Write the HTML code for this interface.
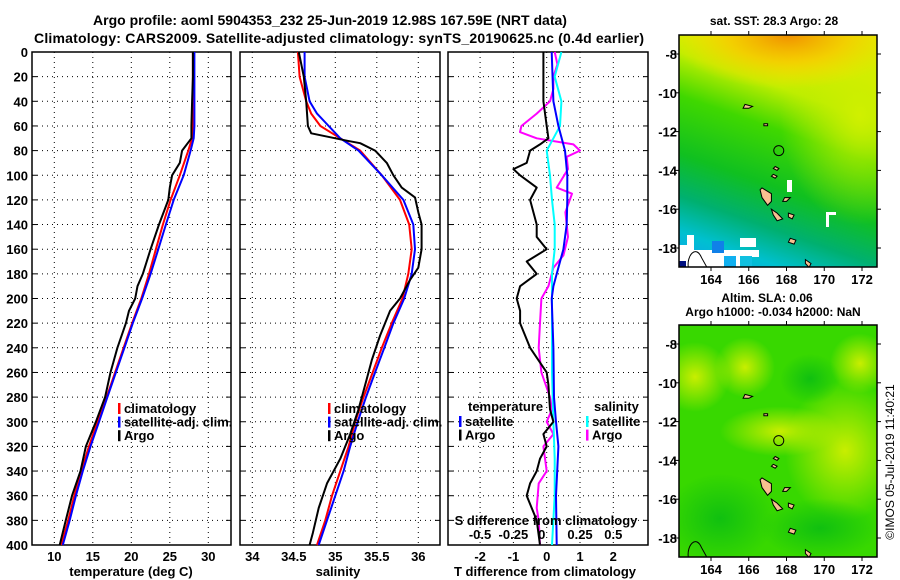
<!DOCTYPE html>
<html><head><meta charset="utf-8"><style>
body{margin:0;background:#fff;}
svg{display:block;font-family:"Liberation Sans",sans-serif;font-weight:bold;}
</style></head><body>
<svg id="s" width="900" height="580" viewBox="0 0 900 580">
<defs>
<linearGradient id="sstg" x1="0.3" y1="0" x2="0" y2="1">
<stop offset="0" stop-color="#e8ee00"/><stop offset="0.15" stop-color="#c0ee00"/>
<stop offset="0.32" stop-color="#40d800"/><stop offset="0.55" stop-color="#10c020"/>
<stop offset="0.72" stop-color="#00b070"/><stop offset="0.86" stop-color="#00c0d0"/><stop offset="1" stop-color="#10a0f0"/></linearGradient>
<radialGradient id="org" cx="0.55" cy="0" r="0.6"><stop offset="0" stop-color="#f09000"/><stop offset="0.5" stop-color="#f8c800" stop-opacity="0.8"/><stop offset="1" stop-color="#f8e000" stop-opacity="0"/></radialGradient>
<radialGradient id="yel1" cx="0.5" cy="0.5" r="0.5"><stop offset="0" stop-color="#d0f000"/><stop offset="1" stop-color="#b0ea00" stop-opacity="0"/></radialGradient>
<radialGradient id="yel2" cx="0.5" cy="0.5" r="0.5"><stop offset="0" stop-color="#c8ee00"/><stop offset="1" stop-color="#c8ee00" stop-opacity="0"/></radialGradient>
<radialGradient id="dk" cx="0.5" cy="0.5" r="0.5"><stop offset="0" stop-color="#10c010"/><stop offset="1" stop-color="#10c010" stop-opacity="0"/></radialGradient>
</defs>
<g id="g"></g>
</svg>
<script>
// ---------- data ----------
const depthT = [0,20,40,60,70,80,100,120,140,160,180,200,220,240,260,280,300,320,340,360,380,400];
const tempClim = [28.0,28.0,28.0,28.0,27.9,27.4,26.3,25.1,24.1,23.2,22.3,21.3,20.1,19.0,17.9,16.8,15.6,14.5,13.5,12.6,11.8,10.9];
const tempSat  = [28.2,28.2,28.2,28.2,28.1,27.7,26.8,25.5,24.5,23.5,22.5,21.4,20.2,19.1,18.0,16.9,15.8,14.7,13.7,12.8,12.0,11.1];
const depthTA = [0,20,40,60,70,80,90,100,110,120,140,160,180,190,200,210,220,240,260,280,300,320,340,360,380,400];
const tempArgo = [28.0,28.0,27.9,27.8,27.8,26.6,26.3,25.3,25.0,24.8,23.6,22.5,21.5,20.8,20.5,19.7,19.3,18.2,17.3,16.6,15.4,14.1,13.4,12.3,11.5,10.7];
const depthS = [0,20,40,50,60,70,80,100,120,140,160,180,200,220,240,260,280,300,320,340,360,380,400];
const salClim = [34.55,34.57,34.65,34.71,34.82,35.06,35.30,35.56,35.78,35.89,35.92,35.88,35.81,35.68,35.56,35.45,35.34,35.24,35.16,35.06,34.96,34.88,34.78];
const salSat  = [34.63,34.63,34.69,34.78,34.92,35.06,35.28,35.56,35.82,35.94,35.96,35.92,35.83,35.70,35.59,35.48,35.37,35.27,35.18,35.10,35.00,34.90,34.80];
const depthSA = [0,20,40,60,66,72,74,80,90,100,110,118,130,140,160,175,185,200,210,230,250,270,290,310,330,350,370,390,400];
const salArgo = [34.56,34.62,34.65,34.67,34.71,35.14,35.30,35.48,35.62,35.70,35.80,35.96,36.0,36.04,36.04,36.0,35.90,35.78,35.66,35.54,35.44,35.36,35.28,35.18,35.06,34.90,34.80,34.73,34.69];
const depthDTS = [0,40,60,80,100,120,140,160,180,190,200,240,280,300,320,360,400];
const dTsat = [0.15,0.2,0.35,0.55,0.62,0.62,0.6,0.5,0.3,0.2,0.15,0.2,0.22,0.28,0.35,0.28,0.3];
const depthDTA = [0,40,60,70,75,80,90,95,100,110,120,130,140,150,160,170,180,190,200,210,220,240,260,270,290,300,310,320,330,340,350,360,380,400];
const dTargo = [-0.1,-0.1,0.0,0.05,-0.2,-0.5,-0.6,-1.0,-0.8,-0.3,-0.5,-0.4,-0.3,-0.3,0.0,-0.6,-0.3,-0.8,-0.9,-0.8,-0.8,-0.5,0.0,0.05,0.1,0.2,-0.1,0.0,-0.2,-0.3,-0.5,-0.6,-0.3,-0.2];
const depthDSS = [0,20,40,60,70,80,100,120,140,160,180,200,220,260,300,330,360,400];
const dSsat = [0.11,0.06,0.11,0.10,0.05,0.0,0.025,0.04,0.06,0.06,0.04,0.04,0.04,0.04,0.05,0.06,0.06,0.04];
const depthDSA = [0,10,20,30,40,50,60,65,70,75,80,85,95,110,115,130,150,165,175,190,200,220,240,260,280,290,300,310,320,340,350,370,380,400];
const dSargo = [0.06,0.08,0.05,0.05,0.025,-0.075,-0.19,-0.2,-0.075,0.2,0.25,0.15,0.16,0.075,0.19,0.14,0.16,0.125,0.05,0.0125,-0.04,-0.05,-0.06,-0.04,0.025,0.04,0.0,0.05,-0.025,0.0,-0.06,-0.075,-0.06,-0.05];
const depthTicks = [0,20,40,60,80,100,120,140,160,180,200,220,240,260,280,300,320,340,360,380,400];
const tempTicks = [10,15,20,25,30];
const salTicks = [34,34.5,35,35.5,36];
const dtTicks = [-2,-1,0,1,2];
const dsTicks = [-0.5,-0.25,0,0.25,0.5];
const dsTickLabels = ["-0.5","-0.25","0","0.25","0.5"];
const lonTicks = [164,166,168,170,172];
const latTicks = [-8,-10,-12,-14,-16,-18];

// ---------- helpers ----------
const NS="http://www.w3.org/2000/svg";
const G=document.getElementById('g');
function el(tag,attrs,parent){const e=document.createElementNS(NS,tag);for(const k in attrs)e.setAttribute(k,attrs[k]);(parent||G).appendChild(e);return e;}
function txt(x,y,s,size,anchor,parent){const t=el('text',{x:x,y:y,'font-size':size,'text-anchor':anchor||'middle',fill:'#000'},parent);t.textContent=s;return t;}
const Y0=52,Y1=545;
function yD(d){return Y0+(d/400)*(Y1-Y0);}
function xT(t){return 54.3+(t-10)*7.7;}
function xS(s){return 252.3+(s-34)*83;}
function xDT(v){return 546.7+v*33.3;}
function xDS(v){return 546.7+v*133.3;}
function line(xs,ds,xf,color,name,w){
  let p='';for(let i=0;i<xs.length;i++){p+=(i?'L':'M')+xf(xs[i]).toFixed(1)+','+yD(ds[i]).toFixed(1);}
  const e=el('path',{d:p,fill:'none',stroke:color,'stroke-width':w||2,'stroke-linejoin':'round'});
  
  
}
function panel(x0,x1,name){
  const r=el('rect',{x:x0,y:Y0,width:x1-x0,height:Y1-Y0,fill:'#fff',stroke:'#000','stroke-width':1.5});
  
  
  depthTicks.forEach(d=>{if(d>0&&d<400)el('line',{x1:x0,x2:x1,y1:yD(d),y2:yD(d),stroke:'#000','stroke-dasharray':'1,4','stroke-width':1});
    el('line',{x1:x0,x2:x0+5,y1:yD(d),y2:yD(d),stroke:'#000'});el('line',{x1:x1-5,x2:x1,y1:yD(d),y2:yD(d),stroke:'#000'});});
}
function vgrid(ticks,xf){ticks.forEach(v=>{const x=xf(v);el('line',{x1:x,x2:x,y1:Y0,y2:Y1,stroke:'#000','stroke-dasharray':'1,4'});});}

// ---------- titles ----------
let t=txt(330,25,"Argo profile: aoml 5904353_232 25-Jun-2019 12.98S 167.59E (NRT data)",14);

t=txt(339,43,"Climatology: CARS2009. Satellite-adjusted climatology: synTS_20190625.nc (0.4d earlier)",14);
t.setAttribute('textLength','610');

// ---------- panel 1: temperature ----------
panel(32,231,'temperature-panel');
vgrid(tempTicks,xT);
depthTicks.forEach(d=>{const l=txt(28,yD(d)+5,String(d),13,'end');});
tempTicks.forEach(v=>{txt(xT(v),561,String(v),13);});
t=txt(131,576,"temperature (deg C)",13);
line(tempClim,depthT,xT,'#ff0000','temp-climatology-line');
line(tempSat,depthT,xT,'#0000ff','temp-satellite-line');
line(tempArgo,depthTA,xT,'#000000','temp-argo-line');
function legend(x,y,items,name){
  const g=el('g',{});
  items.forEach((it,i)=>{const yy=y+i*13.6;el('rect',{x:x,y:yy-9,width:2.5,height:11,fill:it[1]},g);txt(x+6,yy+1,it[0],13,'start',g);});
}
legend(118,412,[["climatology","#ff0000"],["satellite-adj. clim.","#0000ff"],["Argo","#000"]],'temp-legend');

// ---------- panel 2: salinity ----------
panel(240,440,'salinity-panel');
vgrid(salTicks,xS);
salTicks.forEach(v=>{txt(xS(v),561,String(v),13);});
t=txt(338,576,"salinity",13);
line(salClim,depthS,xS,'#ff0000','sal-climatology-line');
line(salSat,depthS,xS,'#0000ff','sal-satellite-line');
line(salArgo,depthSA,xS,'#000000','sal-argo-line');
legend(328,412,[["climatology","#ff0000"],["satellite-adj. clim.","#0000ff"],["Argo","#000"]],'sal-legend');

// ---------- panel 3: differences ----------
panel(448,648,'difference-panel');
vgrid(dtTicks,xDT);
dtTicks.forEach(v=>{txt(xDT(v),561,String(v),13);});
t=txt(545,576,"T difference from climatology",13);
line(dSargo,depthDSA,xDS,'#ff00ff','sdiff-argo-line');
line(dSsat,depthDSS,xDS,'#00ffff','sdiff-satellite-line');
line(dTsat,depthDTS,xDT,'#0000ff','tdiff-satellite-line');
line(dTargo,depthDTA,xDT,'#000000','tdiff-argo-line');
t=txt(546,525,"S difference from climatology",13);
dsTicks.forEach((v,i)=>{txt(xDS(v)+(i==2?-5:0),539,dsTickLabels[i],13);});
txt(468,411,"temperature",13,'start');
legend(459,425,[["satellite","#0000ff"],["Argo","#000"]],'tdiff-legend');
txt(594,411,"salinity",13,'start');
legend(586,425,[["satellite","#00ffff"],["Argo","#ff00ff"]],'sdiff-legend');

// ---------- maps ----------
const MX0=679,MX1=877;
function lonX(l){return 711+(l-164)*18.875;}
const islands=[
 [[166.7,-14.9],[167.2,-15.2],[167.2,-15.6],[167.0,-15.8],[166.7,-15.4],[166.6,-15.0]],
 [[167.2,-16.0],[167.5,-16.2],[167.8,-16.5],[167.5,-16.6],[167.3,-16.3]],
 [[168.1,-16.2],[168.4,-16.3],[168.3,-16.5],[168.1,-16.4]],
 [[168.2,-17.5],[168.5,-17.6],[168.4,-17.8],[168.1,-17.7]],
 [[167.9,-15.4],[168.2,-15.4],[168.0,-15.6],[167.8,-15.6]],
 [[167.3,-14.2],[167.5,-14.3],[167.4,-14.4],[167.2,-14.3]],
 [[167.4,-13.8],[167.6,-13.9],[167.5,-14.0],[167.3,-13.9]],
 [[169.0,-18.6],[169.3,-18.8],[169.2,-19.0],[169.0,-18.8]],
 [[165.8,-10.6],[166.2,-10.7],[166.0,-10.8],[165.7,-10.8]],
 [[166.8,-11.6],[167.0,-11.6],[167.0,-11.7],[166.8,-11.7]]
];
function map(y0,y1,latY,kind,name){
  const g=el('g',{});
  const cp=el('clipPath',{id:'cp'+kind},g);el('rect',{x:MX0,y:y0,width:MX1-MX0,height:y1-y0},cp);
  const c=el('g',{'clip-path':'url(#cp'+kind+')'},g);
  if(kind==='sst'){
    el('rect',{x:MX0,y:y0,width:MX1-MX0,height:y1-y0,fill:'url(#sstg)'},c);
    el('ellipse',{cx:860,cy:y0+80,rx:80,ry:110,fill:'url(#yel1)'},c);
    el('rect',{x:MX0,y:y0,width:MX1-MX0,height:90,fill:'url(#org)'},c);
    el('path',{d:`M${MX0} ${y0+210} L${MX0+8} ${y0+210} L${MX0+8} ${y0+200} L${MX0+15} ${y0+200} L${MX0+15} ${y0+215} L${MX0+80} ${y0+215} L${MX0+80} ${y0+222} L${MX0+62} ${y0+222} L${MX0+62} ${y0+232} L${MX0} ${y0+232} Z`,fill:'#fff'},c);
    el('rect',{x:712,y:241,width:12,height:12,fill:'#1080e8'},c);
    el('rect',{x:724,y:256,width:12,height:11,fill:'#10b0f0'},c);
    el('rect',{x:740,y:256,width:12,height:11,fill:'#10c0e0'},c);
    el('rect',{x:740,y:238,width:16,height:9,fill:'#fff'},c);
    el('rect',{x:678,y:261,width:8,height:6,fill:'#001080'},c);
    el('rect',{x:787,y:180,width:5,height:12,fill:'#fff'},c);
    el('path',{d:'M826 212h10v3h-7v12h-3z',fill:'#fff'},c);
  } else {
    el('rect',{x:MX0,y:y0,width:MX1-MX0,height:y1-y0,fill:'#38d800'},c);
    el('ellipse',{cx:845,cy:latY(-13.5),rx:60,ry:70,fill:'url(#yel2)'},c);
    el('ellipse',{cx:780,cy:latY(-12.5),rx:60,ry:25,fill:'url(#yel2)'},c);
    el('ellipse',{cx:695,cy:latY(-9.7),rx:35,ry:35,fill:'url(#yel2)'},c);
    el('ellipse',{cx:745,cy:latY(-9.2),rx:30,ry:30,fill:'url(#yel2)'},c);
    el('ellipse',{cx:860,cy:latY(-9),rx:30,ry:30,fill:'url(#yel2)'},c);
    el('ellipse',{cx:810,cy:latY(-9.8),rx:30,ry:25,fill:'url(#dk)'},c);
    el('ellipse',{cx:720,cy:latY(-17),rx:55,ry:45,fill:'url(#dk)'},c);
    el('ellipse',{cx:820,cy:latY(-17.5),rx:60,ry:30,fill:'url(#dk)'},c);
  }
  islands.forEach(isl=>{el('polygon',{points:isl.map(p=>lonX(p[0]).toFixed(1)+','+latY(p[1]).toFixed(1)).join(' '),fill:'#f8c090',stroke:'#000','stroke-width':1},c);});
  el('path',{d:`M${lonX(162.8)} ${latY(-19)} C${lonX(162.7)} ${latY(-18.4)} ${lonX(163.2)} ${latY(-17.8)} ${lonX(163.5)} ${latY(-18.5)} L${lonX(163.9)} ${latY(-19.2)}`,fill:'none',stroke:'#000'},c);
  el('circle',{cx:lonX(167.59),cy:latY(-12.98),r:5,fill:'none',stroke:'#000','stroke-width':1},c);
  el('rect',{x:MX0,y:y0,width:MX1-MX0,height:y1-y0,fill:'none',stroke:'#000','stroke-width':1.5},g);
  lonTicks.forEach(l=>{const x=lonX(l);el('line',{x1:x,x2:x,y1:y0-4,y2:y0,stroke:'#000'},g);el('line',{x1:x,x2:x,y1:y1,y2:y1+4,stroke:'#000'},g);txt(x,y1+17,String(l),13,'middle',g);});
  latTicks.forEach(l=>{const y=latY(l);el('line',{x1:MX0-4,x2:MX0,y1:y,y2:y,stroke:'#000'},g);el('line',{x1:MX1,x2:MX1+4,y1:y,y2:y,stroke:'#000'},g);txt(MX0-2,y+5,String(l),13,'end',g);});
}
map(35,267,l=>54+(-8-l)*19.4,'sst','sst-map');
t=txt(774,25,"sat. SST: 28.3 Argo: 28",12);
map(325,557,l=>344+(-8-l)*19.4,'sla','sla-map');
t=txt(767,302,"Altim. SLA: 0.06",12);
t=txt(773,316,"Argo h1000: -0.034 h2000: NaN",12);
t=el('text',{x:0,y:0,'font-size':12,'font-weight':'normal','text-anchor':'middle',transform:'translate(894,462) rotate(-90)'});
t.textContent="©IMOS 05-Jul-2019 11:40:21";


</script>
</body></html>
